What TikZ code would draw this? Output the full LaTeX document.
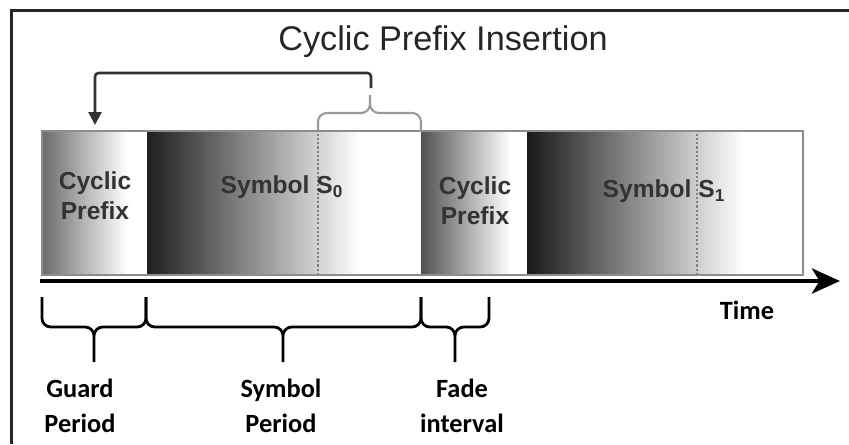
\documentclass[tikz,border=0pt]{standalone}
\usepackage{fontspec}
\setmainfont{Liberation Sans}
\newfontfamily\periodfont{Carlito}
\usepackage{tikz}
\usetikzlibrary{positioning, calc}
\usetikzlibrary{arrows.meta}
\tikzstyle{barlabel}=[text=black!80, align=center,
font=\fontsize{14}{17}\selectfont\bfseries]
\tikzstyle{periodlabel}=[align=center,
font=\periodfont\fontsize{15}{20}\selectfont\bfseries]
\tikzstyle{edgepath}=[-{Triangle[length=2.6mm,width=2.6mm]}, line width=1.5pt,
draw=black!80, rounded corners=2pt]
\tikzstyle{bracepath}=[line width=1.6pt, rounded corners=5pt]
\tikzstyle{timeaxis}=[-{Stealth[length=5.6mm,width=5mm,inset=1.5mm]},
line width=2.8pt]
\tikzstyle{splitline}=[draw=black!50, line width=0.8pt,
dash pattern=on 1.2pt off 1.2pt]
\def \bartop {313}
\def \barbot {169}

\begin{document}
\begin{tikzpicture}[x=0.02cm, y=0.02cm]
        \useasboundingbox (0,0) rectangle (849,444);
        \draw[line width=1.7pt, black!85] (11.5,0) |- (849,433.5);

        \node[font=\fontsize{19.5}{22}\selectfont, text=black!85] (title) at (443,402) {Cyclic Prefix Insertion};

        \shade[left color=black!58, right color=white] (42,\barbot) rectangle (127,\bartop);
        \shade[left color=black!88, right color=white] (147,\barbot) rectangle (360,\bartop);
        \shade[left color=black!68, right color=white] (421,\barbot) rectangle (510,\bartop);
        \shade[left color=black!90, right color=white] (527,\barbot) rectangle (743,\bartop);
        \draw[black!45, line width=0.8pt] (42,\barbot) rectangle (803,\bartop);
        \draw[splitline] (318,\barbot) -- (318,\bartop);
        \draw[splitline] (697,\barbot) -- (697,\bartop);

        \node[barlabel] (cp1) at (95,248) {Cyclic\\Prefix};
        \node[barlabel] (sym0) at (282,257) {Symbol S\textsubscript{0}};
        \node[barlabel] (cp2) at (475,243) {Cyclic\\Prefix};
        \node[barlabel] (sym1) at (664,253) {Symbol S\textsubscript{1}};

        \draw[bracepath, draw=black!40, line width=1.2pt]
            (318,\bartop) |- (370,331) -- (370,349)
            (421,\bartop) |- (370,331) -- (370,349);
        \coordinate (brtop) at (371,356);
        \coordinate (cpin) at (95,319);
        \draw[edgepath] (brtop) -- ++(0,15) -| (cpin);

        \coordinate (axstart) at (40,163);
        \coordinate (axend) at (840,163);
        \draw[timeaxis] (axstart) -- (axend);
        \node[periodlabel] (time) at (747,134) {Time};

        \foreach \a/\b/\m in {42/146/94, 146/421/283, 421/489/455}
            \draw[bracepath]
                (\a,147) |- (\m,117) -- (\m,82)
                (\b,147) |- (\m,117) -- (\m,82);

        \node[periodlabel] (guard) at (80,38) {Guard\\Period};
        \node[periodlabel] (symper) at (281,38) {Symbol\\Period};
        \node[periodlabel] (fade) at (462,38) {Fade\\interval};
\end{tikzpicture}
\end{document}
